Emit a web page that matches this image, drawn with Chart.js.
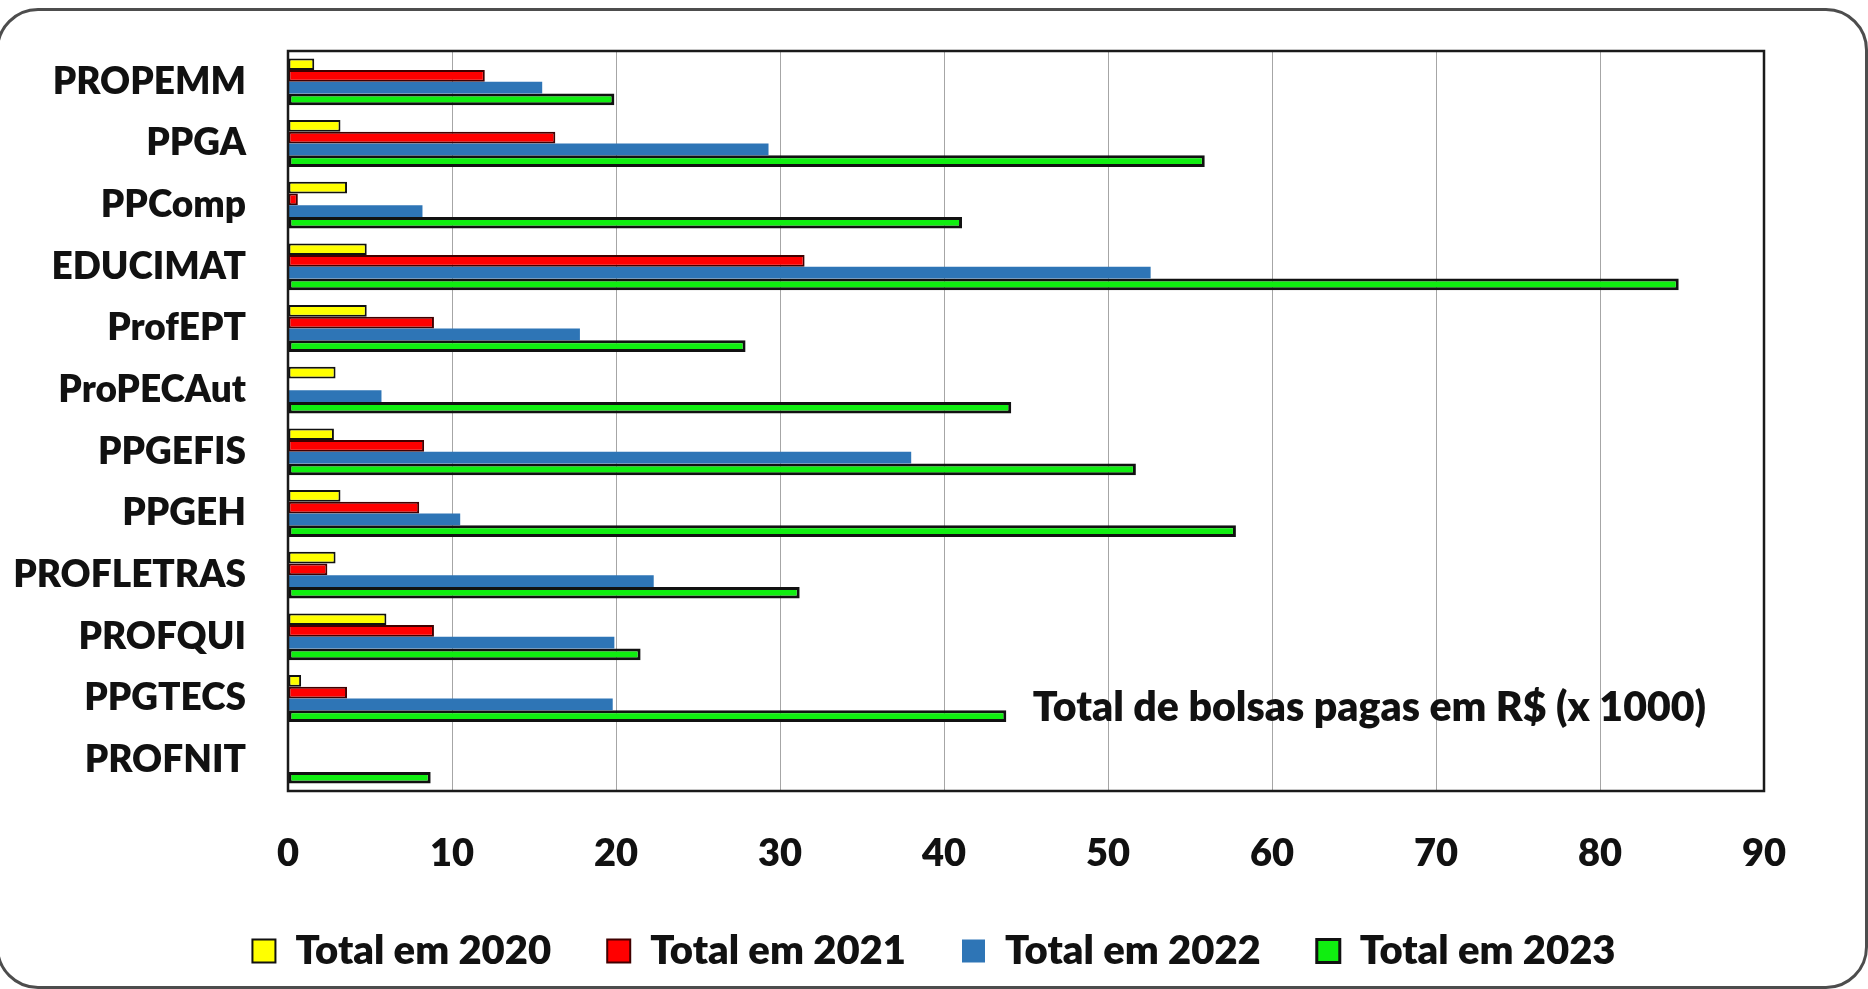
<!DOCTYPE html>
<html>
<head>
<meta charset="utf-8">
<script src="https://cdn.jsdelivr.net/npm/chart.js@4.4.1/dist/chart.umd.min.js"></script>
<style>
    html, body { margin: 0; padding: 0; background: #fff; }
    #caixa { position: relative; width: 1868px; height: 989px; overflow: hidden; }
    #moldura {
        position: absolute; left: -4px; top: 8px; width: 1866px; height: 975px;
        border: 3px solid #4d4d4d; border-radius: 42px; pointer-events: none;
    }
</style>
</head>
<body>
<div id="caixa">
    <canvas id="bolsas_chart" width="1868" height="989"></canvas>
    <div id="moldura"></div>
</div>
<script>
// programas de pós-graduação (eixo vertical, de cima para baixo)
const programas = ["PROPEMM", "PPGA", "PPComp", "EDUCIMAT", "ProfEPT", "ProPECAut",
    "PPGEFIS", "PPGEH", "PROFLETRAS", "PROFQUI", "PPGTECS", "PROFNIT"];

// valores, em R$ x 1000
const total2020 = [1.6, 3.2, 3.6, 4.8, 4.8, 2.9, 2.8, 3.2, 2.9, 6.0, 0.8, 0];
const total2021 = [12.0, 16.3, 0.6, 31.5, 8.9, 0, 8.3, 8.0, 2.4, 8.9, 3.6, 0];
const total2022 = [15.5, 29.3, 8.2, 52.6, 17.8, 5.7, 38.0, 10.5, 22.3, 19.9, 19.8, 0];
const total2023 = [19.9, 55.9, 41.1, 84.8, 27.9, 44.1, 51.7, 57.8, 31.2, 21.5, 43.8, 8.7];

const ticksX = [0, 10, 20, 30, 40, 50, 60, 70, 80, 90];
const anotacao = "Total de bolsas pagas em R$ (x 1000)";

const fonteEixoY = { family: "Lato", weight: "800", size: 37 };
const fonteEixoX = { family: "Lato", weight: "800", size: 38 };
const fonteLegenda = { family: "Lato", weight: "800", size: 40 };

// moldura preta da área do gráfico + texto da anotação
const molduraPlugin = {
    id: "molduraPlugin",
    afterDatasetsDraw(chart) {
        const ctx = chart.ctx;
        const a = chart.chartArea;
        ctx.save();
        ctx.strokeStyle = "#1a1a1a";
        ctx.lineWidth = 2.5;
        ctx.strokeRect(a.left, a.top, a.right - a.left, a.bottom - a.top);

        const y = chart.scales.y.getPixelForValue(10) + 9;
        ctx.font = "800 41px Lato";
        ctx.fillStyle = "#111";
        ctx.textAlign = "right";
        ctx.textBaseline = "middle";
        ctx.fillText(anotacao, a.right - 58, y);
        ctx.restore();
    }
};

function GraficaBolsas() {
    let ctx = document.getElementById("bolsas_chart").getContext("2d");
    Chart.defaults.font.family = "Lato";
    Chart.defaults.color = "#111";

    const chart = new Chart(ctx, {
        type: "bar",
        data: {
            labels: programas,
            datasets: [
                { label: "Total em 2020", data: total2020, backgroundColor: "#ffff00", borderColor: "#111", borderWidth: 2 },
                { label: "Total em 2021", data: total2021, backgroundColor: "#ff0000", borderColor: "#400000", borderWidth: 2 },
                { label: "Total em 2022", data: total2022, backgroundColor: "#2e75b6", borderColor: "#2e75b6", borderWidth: 0 },
                { label: "Total em 2023", data: total2023, backgroundColor: "#10ee10", borderColor: "#111", borderWidth: 3 }
            ]
        },
        options: {
            indexAxis: "y",
            responsive: false,
            animation: false,
            layout: { padding: { top: 51, right: 0, left: 0, bottom: 8 } },
            datasets: {
                bar: { categoryPercentage: 0.76, barPercentage: 1.0, borderSkipped: false }
            },
            scales: {
                x: {
                    min: 0,
                    max: 90,
                    afterBuildTicks: function (scale) {
                        scale.ticks = ticksX.map(function (v) { return { value: v }; });
                    },
                    afterFit: function (scale) { scale.height = 84; },
                    grid: { color: "#a6a6a6", lineWidth: 1, drawTicks: false },
                    border: { display: false },
                    ticks: { font: fonteEixoX, color: "#111", padding: 40, maxRotation: 0 }
                },
                y: {
                    afterFit: function (scale) { scale.width = 288; },
                    // marcas invisíveis: afastam os rótulos sem aumentar o topo
                    grid: { color: "rgba(0,0,0,0)", drawOnChartArea: false, drawTicks: true, tickLength: 14 },
                    border: { display: false },
                    ticks: { font: fonteEixoY, color: "#111", padding: 28 }
                },
                // eixo vazio à direita, só para reservar a margem (a legenda fica centrada)
                margem: {
                    type: "category",
                    position: "right",
                    axis: "y",
                    afterFit: function (scale) { scale.width = 104; },
                    grid: { display: false },
                    border: { display: false },
                    ticks: { display: false }
                }
            },
            plugins: {
                legend: {
                    position: "bottom",
                    labels: {
                        font: fonteLegenda,
                        color: "#111",
                        boxWidth: 23,
                        boxHeight: 23,
                        padding: 56
                    }
                },
                tooltip: { enabled: false }
            }
        },
        plugins: [molduraPlugin]
    });
}

GraficaBolsas();
</script>
</body>
</html>
